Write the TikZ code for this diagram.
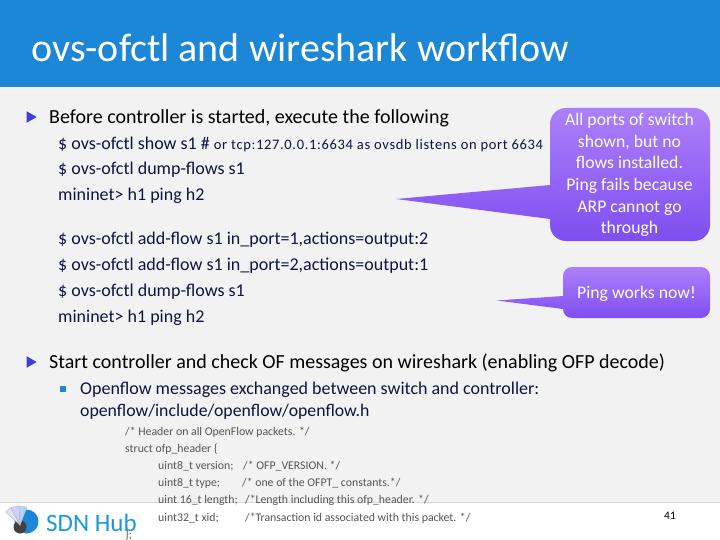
\documentclass[tikz,border=0pt]{standalone}
\usepackage{fontspec}
\setmainfont{Carlito}
\newfontfamily\spc[LetterSpace=4.5]{Carlito}
\usetikzlibrary{shapes.geometric}
\definecolor{hdr}{HTML}{1C87D6}
\definecolor{bgc}{HTML}{F2F2F3}
\definecolor{navy}{HTML}{0F1440}
\definecolor{bul}{HTML}{3F3FD0}
\definecolor{grytx}{HTML}{555555}
\definecolor{bubtop}{HTML}{AC80FA}
\definecolor{bubbot}{HTML}{7F4EF0}
\tikzset{
 txt/.style={anchor=base west,inner sep=0pt,text=black,font=\fontsize{20}{20}\selectfont},
 cmd/.style={anchor=base west,inner sep=0pt,text=navy,font=\fontsize{18}{18}\selectfont},
 code/.style={anchor=base west,inner sep=0pt,text=grytx,font=\fontsize{11.8}{11.8}\selectfont},
 bub/.style={top color=bubtop,bottom color=bubbot,draw=none},
 bubtxt/.style={align=center,inner sep=0pt,text=white,font=\fontsize{17.7}{21.6}\selectfont},
 tri/.style={isosceles triangle,isosceles triangle apex angle=60,fill=bul,inner sep=0pt,minimum height=10pt,minimum width=11pt},
}
\begin{document}
\begin{tikzpicture}[x=1pt,y=-1pt]
\useasboundingbox (0,0) rectangle (720,540);
\fill[white] (0,0) rectangle (720,540);
\fill[bgc] (0,87) rectangle (720,502);
\fill[hdr] (0,0) rectangle (720,87);
\draw[black!15] (0,502.5) -- (720,502.5);
\node[anchor=base west,inner sep=0pt,text=white,font=\fontsize{40}{40}\selectfont] (title) at (31,62) {ovs-ofctl and wireshark workflow};
\node[tri] (b1) at (30,117) {};
\node[txt] (t1) at (49,124) {Before controller is started, execute the following};
\node[cmd] (c1) at (58,149.5) {\$ ovs-ofctl show s1 \# {\spc\fontsize{14.5}{14.5}\selectfont or tcp:127.0.0.1:6634 as ovsdb listens on port 6634}};
\node[cmd] (c2) at (58,175) {\$ ovs-ofctl dump-flows s1};
\node[cmd] (c3) at (58,201) {mininet> h1 ping h2};
\node[cmd] (c4) at (58,244) {\$ ovs-ofctl add-flow s1 in\_port=1,actions=output:2};
\node[cmd] (c5) at (58,270) {\$ ovs-ofctl add-flow s1 in\_port=2,actions=output:1};
\node[cmd] (c6) at (58,296) {\$ ovs-ofctl dump-flows s1};
\node[cmd] (c7) at (58,322) {mininet> h1 ping h2};
\node[tri] (b2) at (30,362) {};
\node[txt] (t2) at (49,368.5) {Start controller and check OF messages on wireshark (enabling OFP decode)};
\fill[hdr] (60,385.5) rectangle (66,391.5);
\node[cmd] (s1) at (80,394) {Openflow messages exchanged between switch and controller:};
\node[cmd,font=\fontsize{17.75}{17.75}\selectfont] (s2) at (80,416) {openflow/include/openflow/openflow.h};
\node[code] (h1) at (125,435) {/* Header on all OpenFlow packets. */};
\node[code] (h2) at (125,452) {struct ofp\_header \{};
\node[code] (h3) at (158,469) {uint8\_t version;};
\node[code] (h3b) at (243,469) {/* OFP\_VERSION. */};
\node[code] (h4) at (158,486) {uint8\_t type;};
\node[code] (h4b) at (242,486) {/* one of the OFPT\_ constants.*/};
\node[code] (h5) at (158,503.5) {uint 16\_t length;};
\node[code] (h5b) at (245,503.5) {/*Length including this ofp\_header. */};
\node[code] (h6) at (158,521) {uint32\_t xid;};
\node[code] (h6b) at (245,521) {/*Transaction id associated with this packet. */};
\node[code] (h7) at (125,538) {\};};
% logo
\fill[hdr] (26.5,521.5) circle (12);
\fill[black!75] (20,527) circle (6.5);
\fill[blue!12!white,draw=black!30,line width=.4pt] (20,525) -- (5.5,512) -- (11,507.5) -- cycle;
\fill[blue!18!white,draw=black!30,line width=.4pt] (20,525) -- (11,507.5) -- (19,506) -- cycle;
\fill[hdr!35!white,draw=black!25,line width=.4pt] (20,525) -- (19,506) -- (27,507) -- cycle;
\node[anchor=base west,inner sep=0pt,text=hdr!85!cyan,font=\fontsize{25}{25}\selectfont] (hub) at (46,531) {SDN Hub};
\node[inner sep=0pt,text=black,font=\fontsize{11.5}{11.5}\selectfont] (pg) at (670,516) {41};
% callouts
\path[bub] (550,150) [rounded corners=16] -- (550,108) -- (710,108) -- (710,241) -- (550,241) [sharp corners] -- (550,219) -- (396,199) -- (550,185) -- cycle;
\path[bub] (563,285) [rounded corners=9] -- (563,267) -- (710,267) -- (710,318) -- (563,318) [sharp corners] -- (563,309) -- (497,300.5) -- (563,296) -- cycle;
\node[bubtxt] (n1) at (629.5,175) {All ports of switch\\shown, but no\\flows installed.\\Ping fails because\\ARP cannot go\\through};
\node[bubtxt] (n2) at (636.5,294) {Ping works now!};
\end{tikzpicture}
\end{document}
